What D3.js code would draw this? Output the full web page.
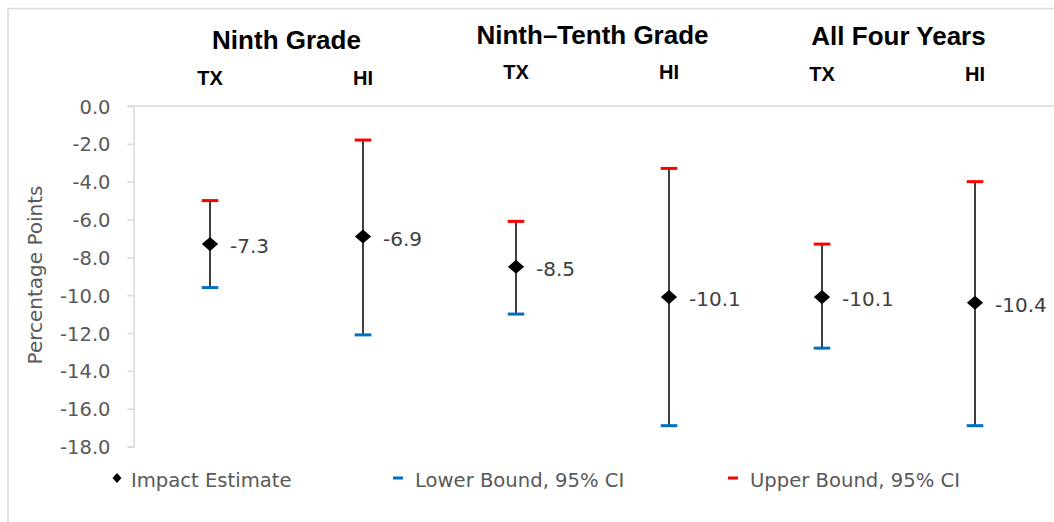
<!DOCTYPE html>
<html>
<head>
<meta charset="utf-8">
<script src="https://cdn.jsdelivr.net/npm/d3@7"></script>
<style>
  html, body { margin: 0; padding: 0; background: #fff; }
  svg { display: block; }
</style>
</head>
<body>
<svg id="chart" width="1054" height="522"></svg>
<script>
// Impact estimates with 95% confidence intervals, by state and period
const groups = ["Ninth Grade", "Ninth\u2013Tenth Grade", "All Four Years"];
const states = ["TX", "HI"];
const estimates = [-7.3, -6.9, -8.5, -10.1, -10.1, -10.4];
const lowerBounds = [-9.6, -12.1, -11.0, -16.9, -12.8, -16.9];
const upperBounds = [-5.0, -1.8, -6.1, -3.3, -7.3, -4.0];
const yTicks = [0, -2, -4, -6, -8, -10, -12, -14, -16, -18];
const legendLabels = ["Impact Estimate", "Lower Bound, 95% CI", "Upper Bound, 95% CI"];

// one entry per plotted estimate: group index, state and values
const rows = estimates.map((v, i) => ({
  id: i,
  group: Math.floor(i / states.length),
  state: states[i % states.length],
  est: v,
  lo: lowerBounds[i],
  hi: upperBounds[i]
}));

const W = 1054, H = 522;
const plot = { left: 133.5, right: 1051.5, top: 106, bottom: 446.5 };

// header text baselines per group (titles sit slightly staggered)
const titleBaseline = [49, 43.5, 45];
const stateBaseline = [85, 78.5, 80.5];

const svg = d3.select("#chart");

const x = d3.scaleBand()
  .domain(rows.map(d => d.id))
  .range([plot.left, plot.right])
  .padding(0);
const cx = d => x(d.id) + x.bandwidth() / 2;

const y = d3.scaleLinear()
  .domain([-18, 0])
  .range([plot.bottom, plot.top]);

const grey = "#d9d9d9";
const sans = "'DejaVu Sans', sans-serif";
const bold = "'Liberation Sans', Arial, sans-serif";

// chart frame
svg.append("rect")
  .attr("x", 8).attr("y", 8.5)
  .attr("width", W + 20).attr("height", H + 20)
  .attr("fill", "none")
  .attr("stroke", grey)
  .attr("stroke-width", 1.5);

// zero gridline across the plot
svg.append("line")
  .attr("x1", plot.left - 6).attr("x2", W)
  .attr("y1", y(0)).attr("y2", y(0))
  .attr("stroke", grey).attr("stroke-width", 1.5);

// y axis
const yAxis = d3.axisLeft(y)
  .tickValues(yTicks)
  .tickFormat(d => d.toFixed(1))
  .tickSize(6)
  .tickPadding(17);

const gy = svg.append("g")
  .attr("transform", `translate(${plot.left},0)`)
  .call(yAxis);
gy.select(".domain").attr("stroke", grey).attr("stroke-width", 1.5);
gy.selectAll(".tick line").attr("stroke", grey).attr("stroke-width", 1.5);
gy.selectAll(".tick text")
  .attr("fill", "#595959")
  .style("font-family", sans)
  .style("font-size", "19.5px")
  .attr("dy", "0.36em");

// y axis title
svg.append("text")
  .attr("transform", `translate(42,275) rotate(-90)`)
  .attr("text-anchor", "middle")
  .attr("fill", "#595959")
  .style("font-family", sans)
  .style("font-size", "20px")
  .text("Percentage Points");

// group titles, centred over each pair of estimates
groups.forEach((g, gi) => {
  const members = rows.filter(r => r.group === gi);
  const mid = d3.mean(members, cx);
  svg.append("text")
    .attr("x", mid)
    .attr("y", titleBaseline[gi])
    .attr("text-anchor", "middle")
    .attr("fill", "#000")
    .style("font-family", bold)
    .style("font-weight", "bold")
    .style("font-size", "26px")
    .text(g);
});

// state labels above each estimate
svg.append("g").selectAll("text")
  .data(rows)
  .join("text")
  .attr("x", d => cx(d))
  .attr("y", d => stateBaseline[d.group])
  .attr("text-anchor", "middle")
  .attr("fill", "#000")
  .style("font-family", bold)
  .style("font-weight", "bold")
  .style("font-size", "20px")
  .text(d => d.state);

// confidence interval whiskers
const bars = svg.append("g");
bars.selectAll("line.whisker")
  .data(rows)
  .join("line")
  .attr("class", "whisker")
  .attr("x1", d => cx(d)).attr("x2", d => cx(d))
  .attr("y1", d => y(d.hi)).attr("y2", d => y(d.lo))
  .attr("stroke", "#3f3f3f")
  .attr("stroke-width", 2);

const capHalf = 8.3;
bars.selectAll("line.upper")
  .data(rows)
  .join("line")
  .attr("class", "upper")
  .attr("x1", d => cx(d) - capHalf).attr("x2", d => cx(d) + capHalf)
  .attr("y1", d => y(d.hi)).attr("y2", d => y(d.hi))
  .attr("stroke", "#ff0000")
  .attr("stroke-width", 3);

bars.selectAll("line.lower")
  .data(rows)
  .join("line")
  .attr("class", "lower")
  .attr("x1", d => cx(d) - capHalf).attr("x2", d => cx(d) + capHalf)
  .attr("y1", d => y(d.lo)).attr("y2", d => y(d.lo))
  .attr("stroke", "#0070c0")
  .attr("stroke-width", 3);

// point estimates as diamonds
const diamond = d3.symbol().type(d3.symbolSquare).size(100);
bars.selectAll("path.est")
  .data(rows)
  .join("path")
  .attr("class", "est")
  .attr("d", diamond)
  .attr("transform", d => `translate(${cx(d)},${y(d.est)}) scale(1.15,1) rotate(45)`)
  .attr("fill", "#000");

// value labels
bars.selectAll("text.val")
  .data(rows)
  .join("text")
  .attr("class", "val")
  .attr("x", d => cx(d) + 20)
  .attr("y", d => y(d.est))
  .attr("dy", "0.45em")
  .attr("fill", "#404040")
  .style("font-family", sans)
  .style("font-size", "20px")
  .text(d => d.est.toFixed(1));

// legend
const legendX = [117, 398, 733];
const legendY = 478;
const leg = svg.append("g");
leg.append("path")
  .attr("d", d3.symbol().type(d3.symbolSquare).size(40))
  .attr("transform", `translate(${legendX[0]},${legendY}) scale(1,1.1) rotate(45)`)
  .attr("fill", "#000");
leg.append("line")
  .attr("x1", legendX[1] - 5).attr("x2", legendX[1] + 5)
  .attr("y1", legendY).attr("y2", legendY)
  .attr("stroke", "#0070c0").attr("stroke-width", 3);
leg.append("line")
  .attr("x1", legendX[2] - 5).attr("x2", legendX[2] + 5)
  .attr("y1", legendY).attr("y2", legendY)
  .attr("stroke", "#ff0000").attr("stroke-width", 3);
leg.selectAll("text")
  .data(legendLabels)
  .join("text")
  .attr("x", (d, i) => legendX[i] + (i === 0 ? 14 : 17))
  .attr("y", legendY + 9)
  .attr("fill", "#595959")
  .style("font-family", sans)
  .style("font-size", "19.6px")
  .text(d => d);
</script>
</body>
</html>
